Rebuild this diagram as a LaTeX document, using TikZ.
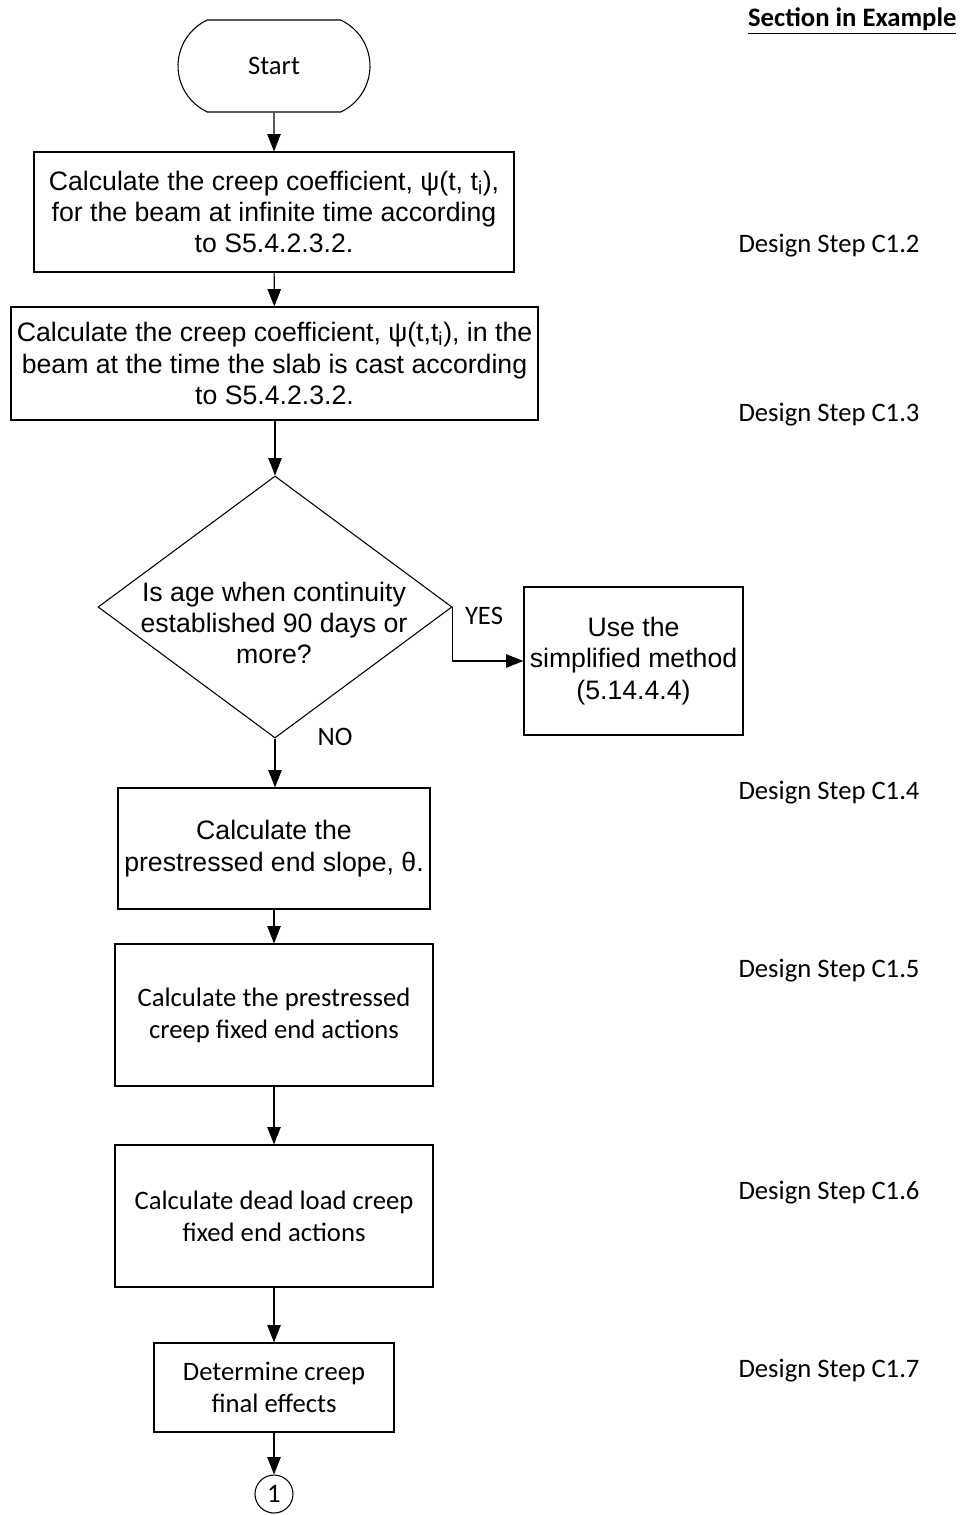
\documentclass[tikz,border=0pt]{standalone}
\usepackage{fontspec}
\setmainfont{Liberation Sans}
\newfontfamily\calib{Carlito}
\usetikzlibrary{arrows.meta,shapes.geometric,shapes.misc}
\tikzset{
  x=0.75pt, y=-0.75pt,
  every path/.style={line width=0.8pt},
  arial/.style={font=\fontsize{20}{23.5}\selectfont, align=center},
  calibri/.style={font=\calib\fontsize{20}{24}\selectfont, align=center},
  stepbox/.style={draw, rectangle, inner sep=0pt, line width=0.8pt},
  flow/.style={draw, line width=0.8pt, -{Triangle[length=13pt,width=10pt]}},
  sidelabel/.style={font=\calib\fontsize{20}{24}\selectfont, anchor=west, inner sep=0pt},
}
\begin{document}
\begin{tikzpicture}
\useasboundingbox (0,0) rectangle (960,1515);

\node[font=\calib\bfseries\fontsize{20}{24}\selectfont, anchor=east, inner sep=0pt] (sec) at (957,21) {\underline{Section in Example}};

\node[draw, rounded rectangle, rounded rectangle arc length=130, minimum width=144pt, minimum height=69pt, inner sep=0pt, calibri] (start) at (274,66) {Start};

\node[stepbox, arial, minimum width=360pt, minimum height=90pt] (b1) at (274,212)
  {Calculate the creep coefficient, ψ(t, t\textsubscript{i}),\\for the beam at infinite time according\\to S5.4.2.3.2.};

\node[stepbox, arial, minimum width=395.25pt, minimum height=84.75pt] (b2) at (274.5,363.5)
  {Calculate the creep coefficient, ψ(t,t\textsubscript{i}), in the\\beam at the time the slab is cast according\\to S5.4.2.3.2.};

\node[draw, diamond, minimum width=265.5pt, minimum height=196.5pt, inner sep=0pt] (d) at (275,607) {};
\node[arial, inner sep=0pt] (dtext) at (274,623) {Is age when continuity\\established 90 days or\\more?};

\node[stepbox, arial, minimum width=164.25pt, minimum height=111pt] (b3) at (633.5,661)
  {Use the\\simplified method\\(5.14.4.4)};

\node[stepbox, arial, minimum width=234pt, minimum height=90.75pt] (b4) at (274,848.5)
  {Calculate the\\prestressed end slope, θ.};

\node[stepbox, calibri, minimum width=238.5pt, minimum height=106.5pt] (b5) at (274,1015)
  {Calculate the prestressed\\creep fixed end actions};

\node[stepbox, calibri, minimum width=238.5pt, minimum height=106.5pt] (b6) at (274,1216)
  {Calculate dead load creep\\fixed end actions};

\node[stepbox, calibri, minimum width=180pt, minimum height=66.75pt] (b7) at (274,1387.5)
  {Determine creep\\final effects};

\node[draw, circle, minimum size=28.5pt, inner sep=0pt, calibri] (c1) at (274,1494) {1};

\node[calibri, inner sep=0pt] (yes) at (484,616) {YES};
\node[calibri, inner sep=0pt] (no) at (335,737) {NO};

\node[sidelabel] (s2) at (738,246) {Design Step C1.2};
\node[sidelabel] (s3) at (738,415) {Design Step C1.3};
\node[sidelabel] (s4) at (738,793) {Design Step C1.4};
\node[sidelabel] (s5) at (738,971) {Design Step C1.5};
\node[sidelabel] (s6) at (738,1193) {Design Step C1.6};
\node[sidelabel] (s7) at (738,1371) {Design Step C1.7};

\draw[flow] (start) -- (b1);
\draw[flow] (b1) -- (b2);
\draw[flow] (b2.south -| d.north) -- (d.north);
\draw[flow] (d.east) |- (b3.west);
\draw[flow] (d.south) -- (b4.north -| d.south);
\draw[flow] (b4) -- (b5);
\draw[flow] (b5) -- (b6);
\draw[flow] (b6) -- (b7);
\draw[flow] (b7) -- (c1);
\end{tikzpicture}
\end{document}
